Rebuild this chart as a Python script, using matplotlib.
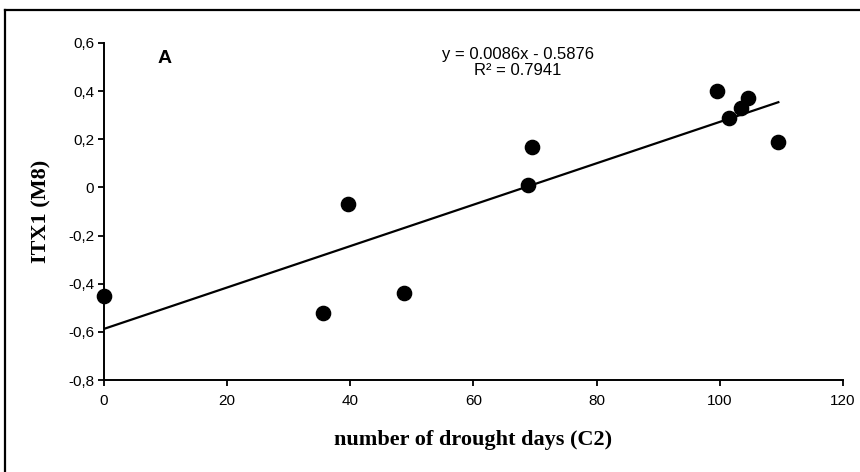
import numpy as np
import matplotlib
matplotlib.use("Agg")
import matplotlib.pyplot as plt
from matplotlib.ticker import FuncFormatter
from matplotlib.lines import Line2D

# drought days vs ITX1 (M8)
drought_days = [0, 35.5, 39.7, 48.7, 68.9, 69.5, 99.5, 101.5, 103.5, 104.5, 109.5]
itx1 = [-0.45, -0.52, -0.07, -0.44, 0.01, 0.17, 0.40, 0.29, 0.33, 0.37, 0.19]

slope = 0.0086
intercept = -0.5876
r2 = 0.7941

x_ticks = [0, 20, 40, 60, 80, 100, 120]
y_ticks = [-0.8, -0.6, -0.4, -0.2, 0, 0.2, 0.4, 0.6]

plt.rcParams['font.family'] = ['Liberation Sans', 'DejaVu Sans']

fig = plt.figure(figsize=(8.6, 4.72), dpi=100)
ax = fig.add_axes([104/860, 1-380/472, (843-104)/860, (380-43)/472])

# trend line over the data range
xl = np.array([min(drought_days), max(drought_days)])
ax.plot(xl, slope*xl + intercept, color='black', lw=1.6, zorder=2)
ax.scatter(drought_days, itx1, s=105, color='black', zorder=3, clip_on=False)

ax.set_xlim(0, 120)
ax.set_ylim(-0.8, 0.6)
ax.set_xticks(x_ticks)
ax.set_yticks(y_ticks)

def comma(v, pos):
    if abs(v) < 1e-9:
        return '0'
    return ('%g' % round(v, 1)).replace('.', ',')
ax.yaxis.set_major_formatter(FuncFormatter(comma))
ax.xaxis.set_major_formatter(FuncFormatter(lambda v, p: '%d' % v))

for s in ['top', 'right']:
    ax.spines[s].set_visible(False)
for s in ['left', 'bottom']:
    ax.spines[s].set_linewidth(1.4)
ax.tick_params(direction='out', length=4, width=1.3, labelsize=11)
ax.tick_params(axis='x', pad=6)
ax.tick_params(axis='y', pad=3)

ax.set_xlabel('number of drought days (C2)', fontsize=16, fontweight='bold',
              family=['Liberation Serif', 'DejaVu Serif'], labelpad=16)
ax.set_ylabel('ITX1 (M8)', fontsize=16, fontweight='bold',
              family=['Liberation Serif', 'DejaVu Serif'], labelpad=12)

ax.text(0.073, 0.955, 'A', transform=ax.transAxes, fontsize=14, fontweight='bold',
        ha='left', va='center')
ax.text(0.560, 0.967, 'y = %.4fx - %.4f' % (slope, -intercept), transform=ax.transAxes,
        fontsize=12, ha='center', va='center')
ax.text(0.560, 0.917, 'R\u00b2 = %.4f' % r2, transform=ax.transAxes,
        fontsize=12, ha='center', va='center')

# outer frame (cropped: only top and left edges visible)
fig.add_artist(Line2D([5/860, 1], [1-10/472, 1-10/472], transform=fig.transFigure,
                      color='black', lw=1.6))
fig.add_artist(Line2D([5/860, 5/860], [0, 1-10/472], transform=fig.transFigure,
                      color='black', lw=1.6))

fig.savefig('out.png', dpi=100)
